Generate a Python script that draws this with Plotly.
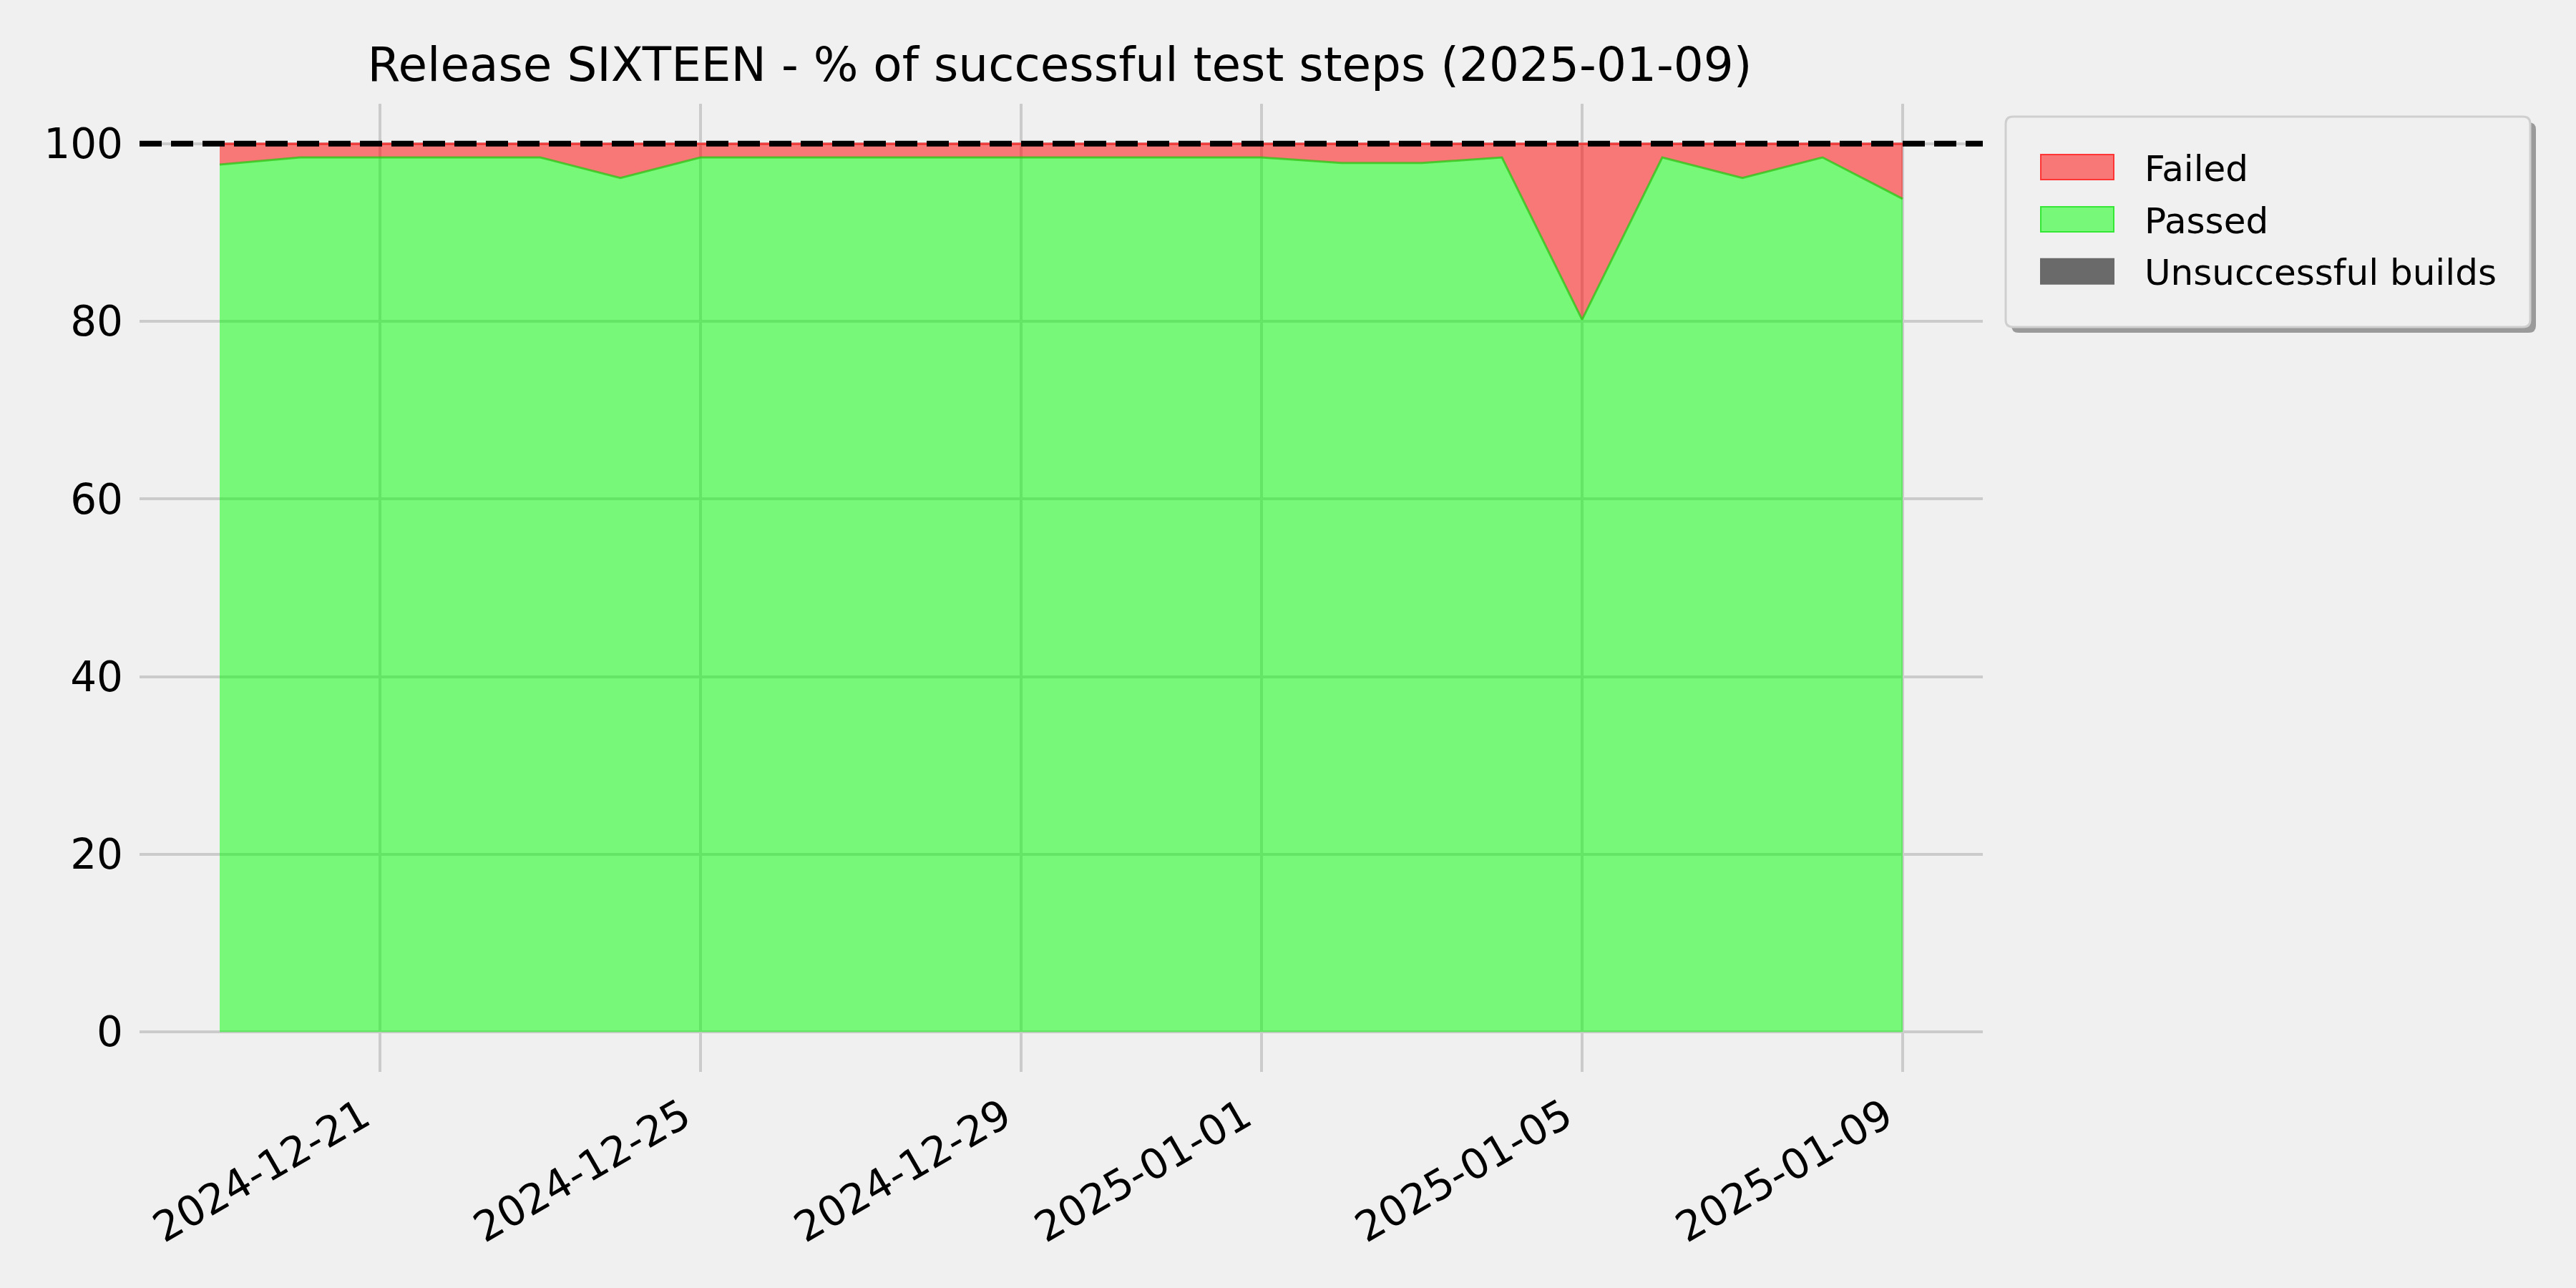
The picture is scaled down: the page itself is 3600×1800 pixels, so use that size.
import plotly.graph_objects as go

# ---------------- data ----------------
DATES = ["2024-12-19", "2024-12-20", "2024-12-21", "2024-12-22", "2024-12-23",
         "2024-12-24", "2024-12-25", "2024-12-26", "2024-12-27", "2024-12-28",
         "2024-12-29", "2024-12-30", "2024-12-31", "2025-01-01", "2025-01-02",
         "2025-01-03", "2025-01-04", "2025-01-05", "2025-01-06", "2025-01-07",
         "2025-01-08", "2025-01-09"]
UNSUCCESSFUL = [0, 0, 0, 0, 0, 0, 0, 0, 0, 0, 0, 0, 0, 0, 0, 0, 0, 0, 0, 0, 0, 0]
PASSED = [97.66, 98.46, 98.46, 98.46, 98.46, 96.15, 98.46, 98.46, 98.46, 98.46,
          98.46, 98.46, 98.46, 98.46, 97.83, 97.83, 98.46, 80.2, 98.46, 96.15,
          98.46, 93.8]
FAILED = [2.34, 1.54, 1.54, 1.54, 1.54, 3.85, 1.54, 1.54, 1.54, 1.54,
          1.54, 1.54, 1.54, 1.54, 2.17, 2.17, 1.54, 19.8, 1.54, 3.85,
          1.54, 6.2]
TARGET = 100
TICK_DATES = ["2024-12-21", "2024-12-25", "2024-12-29", "2025-01-01", "2025-01-05", "2025-01-09"]
Y_TICKS = [0, 20, 40, 60, 80, 100]
TITLE = "Release SIXTEEN - % of successful test steps (2025-01-09)"
LEGEND_ITEMS = ["Failed", "Passed", "Unsuccessful builds"]

# ---------------- style ----------------
W, H = 3600, 1800
L, R, T, B = 195, 2771, 145, 1498
BG = "#f0f0f0"
FONT = "DejaVu Sans"
RED_FILL = "rgba(255,0,0,0.5)"
GREEN_FILL = "rgba(0,255,0,0.5)"
GRAY_FILL = "#6a6a6a"

fig = go.Figure()
fig.add_trace(go.Scatter(x=DATES, y=UNSUCCESSFUL, stackgroup="s", mode="lines",
                         line=dict(width=0, color=GRAY_FILL), fillcolor=GRAY_FILL,
                         name="Unsuccessful builds", showlegend=False, hoverinfo="skip"))
fig.add_trace(go.Scatter(x=DATES, y=PASSED, stackgroup="s", mode="lines",
                         line=dict(width=3, color="rgba(40,200,20,0.75)"), fillcolor=GREEN_FILL,
                         name="Passed", showlegend=False, hoverinfo="skip"))
fig.add_trace(go.Scatter(x=DATES, y=FAILED, stackgroup="s", mode="lines",
                         line=dict(width=3, color="rgba(255,0,0,0.6)"), fillcolor=RED_FILL,
                         name="Failed", showlegend=False, hoverinfo="skip"))

PW, PH = R - L, B - T


def px(xp):
    return (xp - L) / PW


def py(yp):
    return (B - yp) / PH


def rrect(x0, y0, x1, y1, r):
    rx, ry = r / PW, r / PH
    X0, X1 = px(x0), px(x1)
    Y0, Y1 = py(y0), py(y1)
    return (f"M {X0+rx},{Y0} L {X1-rx},{Y0} Q {X1},{Y0} {X1},{Y0-ry} "
            f"L {X1},{Y1+ry} Q {X1},{Y1} {X1-rx},{Y1} L {X0+rx},{Y1} "
            f"Q {X0},{Y1} {X0},{Y1+ry} L {X0},{Y0-ry} Q {X0},{Y0} {X0+rx},{Y0} Z")


shapes = [
    dict(type="line", xref="paper", yref="y", x0=0, x1=1, y0=TARGET, y1=TARGET,
         line=dict(color="black", width=8, dash="31px,13px"), layer="above"),
    dict(type="path", xref="paper", yref="paper", path=rrect(2811, 171, 3544, 465, 10),
         fillcolor="#9a9a9a", line=dict(width=0), layer="above"),
    dict(type="path", xref="paper", yref="paper", path=rrect(2803, 163, 3536, 457, 10),
         fillcolor=BG, line=dict(width=3, color="#cfcfcf"), layer="above"),
]
rows = [233.5, 306.5, 379.3]
patch_fill = [RED_FILL, GREEN_FILL, GRAY_FILL]
patch_edge = ["rgba(255,40,40,0.9)", "rgba(40,230,40,0.9)", GRAY_FILL]
annotations = []
for name, yc, fc, ec in zip(LEGEND_ITEMS, rows, patch_fill, patch_edge):
    shapes.append(dict(type="rect", xref="paper", yref="paper",
                       x0=px(2852), x1=px(2954), y0=py(yc - 17.5), y1=py(yc + 17.5),
                       fillcolor=fc, line=dict(width=2, color=ec), layer="above"))
    annotations.append(dict(xref="paper", yref="paper", x=px(2995), y=py(yc + 2),
                            xanchor="left", yanchor="middle", text=name, showarrow=False,
                            font=dict(family=FONT, size=50, color="black")))

# rotated x tick labels (right/top aligned like the reference)
for d in TICK_DATES:
    annotations.append(dict(xref="x", yref="paper", x=d, y=0, xanchor="right", yanchor="top",
                            yshift=-22, text=d, textangle=-30, showarrow=False,
                            font=dict(family=FONT, size=58, color="black")))

fig.update_layout(
    width=W, height=H,
    paper_bgcolor=BG, plot_bgcolor=BG,
    margin=dict(l=L, r=W - R, t=T, b=H - B, autoexpand=False),
    showlegend=False,
    title=dict(text=TITLE, x=px(1481), xref="paper", xanchor="center",
               y=1 - 90 / H, yref="container", yanchor="middle",
               font=dict(family=FONT, size=66, color="black")),
    xaxis=dict(type="date", range=["2024-12-18", "2025-01-10"],
               tickvals=TICK_DATES, showticklabels=False,
               showgrid=True, gridcolor="#cbcbcb", gridwidth=3.5,
               zeroline=False, showline=False, ticks=""),
    yaxis=dict(range=[-4.5, 104.5], tickvals=Y_TICKS,
               showgrid=True, gridcolor="#cbcbcb", gridwidth=3.5,
               zeroline=False, showline=False, ticks="", ticklabelstandoff=22,
               tickfont=dict(family=FONT, size=58, color="black")),
    shapes=shapes,
    annotations=annotations,
)

fig.write_html("out.html",
               config={"displayModeBar": False},
               post_script="document.body.style.margin='0';document.body.style.background='#f0f0f0';")
